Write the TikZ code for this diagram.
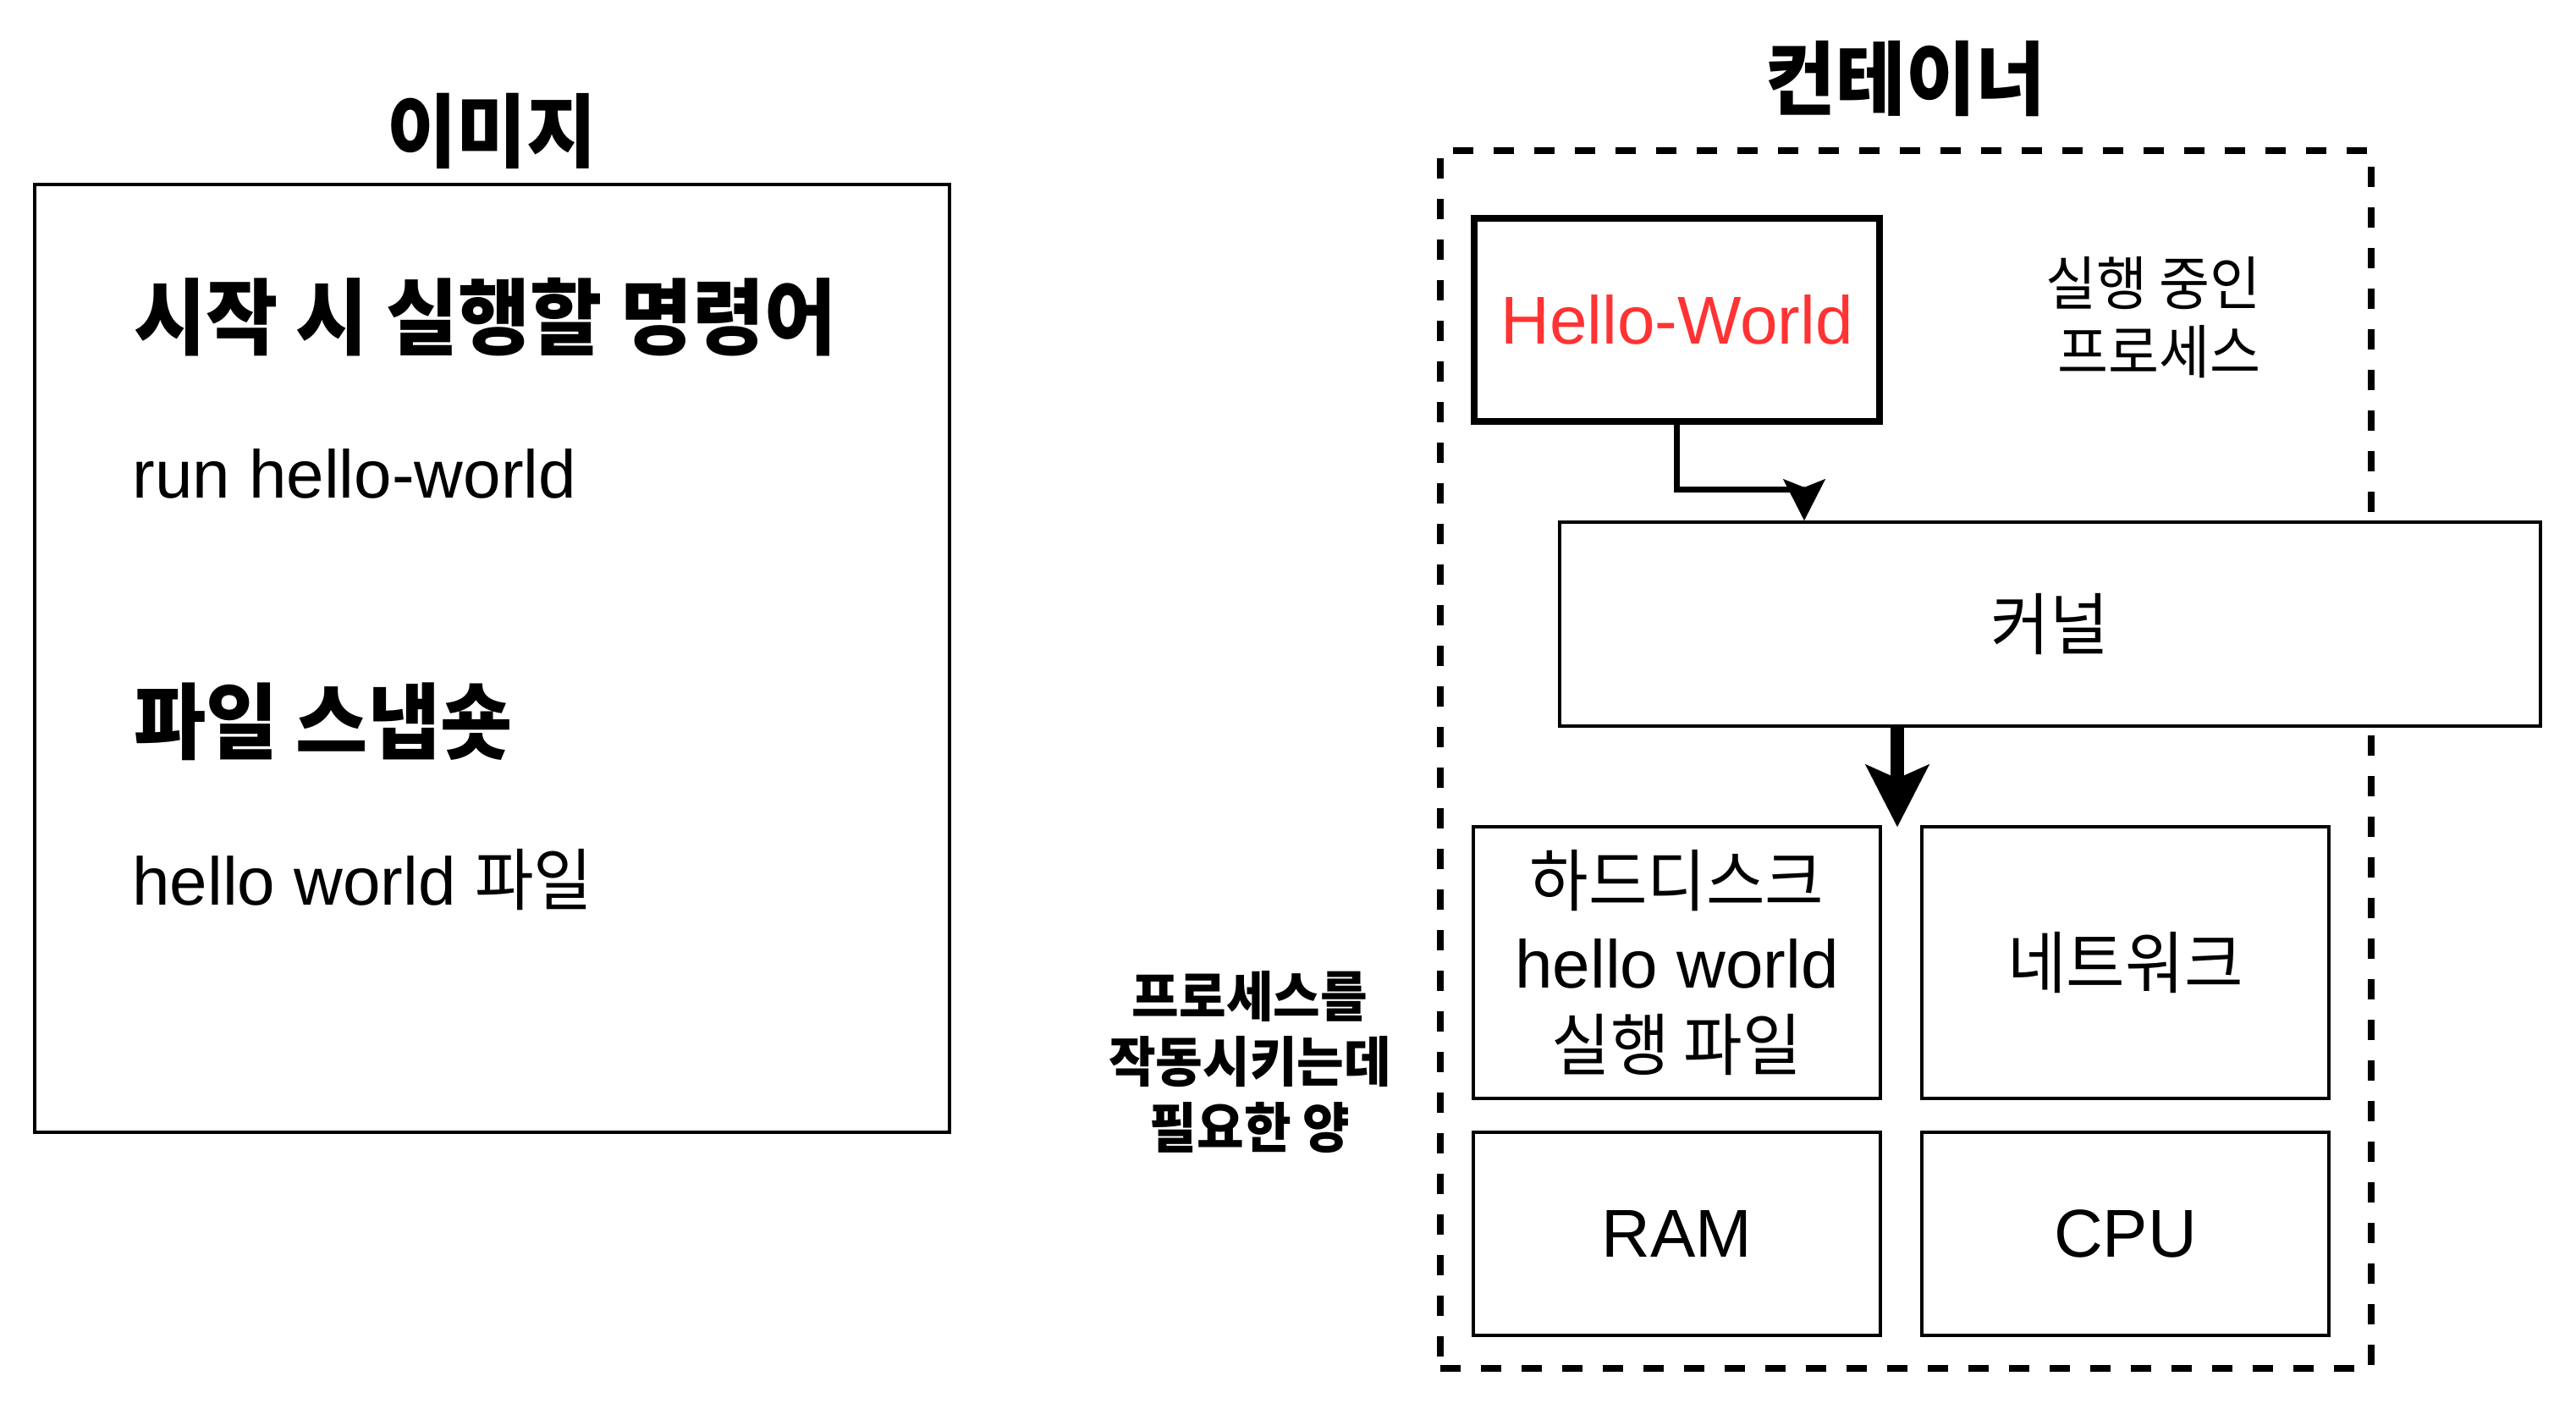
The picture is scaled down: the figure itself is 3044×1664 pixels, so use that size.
\documentclass[tikz,border=0pt]{standalone}
\usepackage{fontspec}
\setmainfont{Liberation Sans}
\newfontfamily\kr[FakeStretch=0.945]{Noto Sans CJK KR}
\usetikzlibrary{arrows.meta}
\definecolor{hwred}{HTML}{FF3333}
\newcommand\fsz[2]{\fontsize{#1}{#2}\selectfont}
\begin{document}
\begin{tikzpicture}[x=0.5pt,y=-0.5pt,
  thinbox/.style={draw, line width=2pt, inner sep=0pt},
  thickbox/.style={draw, line width=4pt, inner sep=0pt},
  txt/.style={inner sep=0pt, align=center},
  body/.style={font=\fsz{40pt}{48.5pt}},
  krbody/.style={font=\kr\fsz{40pt}{48.5pt}},
  title/.style={txt, font=\kr\bfseries\fsz{47.5pt}{57pt}},
  heading/.style={txt, anchor=west, font=\kr\bfseries\fsz{49pt}{59pt}},
  resbox/.style={thinbox, minimum width=240.5pt, align=center},
  flow/.style={line width=3.5pt, -{Stealth[length=24.5pt, width=25pt, inset=5pt, line width=0.01pt]}},
  bigflow/.style={line width=8pt, -{Stealth[length=37pt, width=38pt, inset=8.5pt, line width=0.01pt]}}]
\useasboundingbox (0,0) rectangle (3044,1664);

% ---------- image ----------
\node[thinbox, minimum width=540.5pt, minimum height=559.75pt] (imgbox) at (581.5,777.75) {};
\node[title] (imgtitle) at (581,155) {이미지};
\node[heading] (cmdhead) at (158,375) {시작 시 실행할 명령어};
\node[txt, anchor=west, body] (cmdtext) at (156,560) {run hello-world};
\node[heading] (snaphead) at (158,853) {파일 스냅숏};
\node[txt, anchor=west, body] (snaptext) at (156,1040) {hello world {\kr 파일}};

% ---------- container ----------
\node[thickbox, dash pattern=on 12pt off 12pt, minimum width=550pt, minimum height=719.5pt] (ctbox) at (2252,897.5) {};
\node[title] (cttitle) at (2252,93) {컨테이너};
\node[thickbox, minimum width=239.5pt, minimum height=120pt, text=hwred, body] (hello) at (1981.5,378) {Hello-World};
\node[txt, align=right, anchor=east, font=\kr\fsz{34.5pt}{40.75pt}] (running) at (2672,375) {실행 중인\\프로세스};
\node[thinbox, fill=white, minimum width=579.5pt, minimum height=120.5pt, krbody] (kernel) at (2422.5,737.5) {커널};

\coordinate (bend) at (2132,578);
\draw[flow] (hello.south) |- (bend) -- (kernel.north -| bend);

\node[resbox, minimum height=160.5pt, body] (hdd) at (1981.5,1137.5) {{\kr 하드디스크}\\hello world\hspace*{12pt}\\{\kr 실행 파일}};
\node[resbox, minimum height=160.5pt, krbody] (net) at (2511.5,1137.5) {네트워크};
\node[resbox, minimum height=120pt, body] (ram) at (1981.5,1458) {RAM};
\node[resbox, minimum height=120pt, body] (cpu) at (2511.5,1458) {CPU};

\coordinate (tip2) at (2242,977);
\draw[bigflow] (kernel.south -| tip2) -- (tip2);

\node[txt, font=\kr\bfseries\fsz{32pt}{38.75pt}] (need) at (1477,1255) {프로세스를\\작동시키는데\\필요한 양};
\end{tikzpicture}
\end{document}
